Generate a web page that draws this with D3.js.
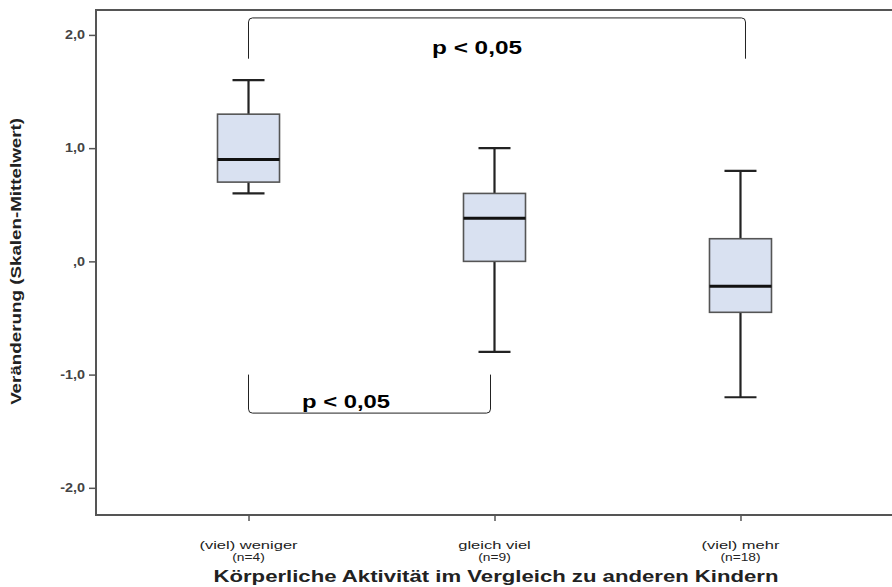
<!DOCTYPE html>
<html>
<head>
<meta charset="utf-8">
<script src="https://cdn.jsdelivr.net/npm/d3@7"></script>
<style>
  body { margin: 0; background: #fff; }
  svg { display: block; font-family: "Liberation Sans", Arial, sans-serif; }
</style>
</head>
<body>
<svg class="chart"></svg>
<script>
// groups on the x axis
var categories = ["(viel) weniger", "gleich viel", "(viel) mehr"];
var counts = ["(n=4)", "(n=9)", "(n=18)"];
// box statistics
var whiskerLow = [0.6, -0.8, -1.2];
var q1 = [0.7, 0.0, -0.45];
var median = [0.9, 0.38, -0.22];
var q3 = [1.3, 0.6, 0.2];
var whiskerHigh = [1.6, 1.0, 0.8];
var yTicks = [2, 1, 0, -1, -2];
var yTickLabels = ["2,0", "1,0", ",0", "-1,0", "-2,0"];
var pLabel = "p < 0,05";

var width = 892,
    height = 587;
var mLeft = 96, mRight = 893, mTop = 10, mBottom = 515;
var stretch = 1.3; // text in the picture is drawn wide

var data = categories.map(function(c, i) {
  return {cat: c, n: counts[i], lo: whiskerLow[i], q1: q1[i], med: median[i], q3: q3[i], hi: whiskerHigh[i]};
});

var x = d3.scalePoint()
    .domain(categories)
    .range([mLeft, mRight])
    .padding(0.62);

var y = d3.scaleLinear()
    .domain([-2.24, 2.22])
    .range([mBottom, mTop]);

var chart = d3.select(".chart")
    .attr("width", width)
    .attr("height", height);

function widen(sel, k) {
  sel.each(function() {
    var w = this.getComputedTextLength();
    d3.select(this).attr("textLength", w * (k || stretch)).attr("lengthAdjust", "spacingAndGlyphs");
  });
}

// frame (right edge falls outside the picture)
chart.append("path")
    .attr("d", "M" + (width + 5) + "," + mTop + "H" + mLeft + "V" + mBottom + "H" + (width + 5))
    .attr("fill", "none")
    .attr("stroke", "#555")
    .attr("stroke-width", 2);

// y axis
var yAxis = chart.append("g")
    .attr("transform", "translate(" + mLeft + ",0)")
    .call(d3.axisLeft(y)
      .tickValues(yTicks)
      .tickSize(7)
      .tickFormat(function(d, i) { return yTickLabels[i]; }));
yAxis.select(".domain").remove();
yAxis.selectAll("line").attr("stroke", "#555").attr("stroke-width", 1.5);
yAxis.selectAll("text")
    .attr("fill", "#444")
    .attr("font-weight", "bold")
    .attr("font-size", 12)
    .attr("font-family", "Liberation Sans, Arial, sans-serif")
    .attr("x", -11)
    .call(widen, 1.2);

// x axis
var xAxis = chart.append("g")
    .attr("transform", "translate(0," + mBottom + ")")
    .call(d3.axisBottom(x).tickSize(6).tickFormat(""));
xAxis.select(".domain").remove();
xAxis.selectAll("line").attr("stroke", "#555").attr("stroke-width", 1.5);

chart.selectAll(".catlabel")
    .data(data)
    .enter()
    .append("text")
      .attr("class", "catlabel")
      .attr("text-anchor", "middle")
      .attr("font-size", 11)
      .attr("fill", "#222")
      .attr("x", function(d) { return x(d.cat); })
      .attr("y", 549)
      .text(function(d) { return d.cat; })
      .call(widen, 1.5);

chart.selectAll(".ncount")
    .data(data)
    .enter()
    .append("text")
      .attr("class", "ncount")
      .attr("text-anchor", "middle")
      .attr("font-size", 11)
      .attr("fill", "#222")
      .attr("x", function(d) { return x(d.cat); })
      .attr("y", 561)
      .text(function(d) { return d.n; })
      .call(widen, 1.25);

// boxes
var boxW = 62, capW = 32;
var g = chart.selectAll(".box")
    .data(data)
    .enter()
    .append("g")
      .attr("class", "box");

g.append("line")
    .attr("x1", function(d) { return x(d.cat); })
    .attr("x2", function(d) { return x(d.cat); })
    .attr("y1", function(d) { return y(d.hi); })
    .attr("y2", function(d) { return y(d.lo); })
    .attr("stroke", "#222")
    .attr("stroke-width", 2.2);

g.selectAll(".cap")
    .data(function(d) { return [{c: d.cat, v: d.hi}, {c: d.cat, v: d.lo}]; })
    .enter()
    .append("line")
      .attr("x1", function(d) { return x(d.c) - capW / 2; })
      .attr("x2", function(d) { return x(d.c) + capW / 2; })
      .attr("y1", function(d) { return y(d.v); })
      .attr("y2", function(d) { return y(d.v); })
      .attr("stroke", "#222")
      .attr("stroke-width", 2.2);

g.append("rect")
    .attr("x", function(d) { return x(d.cat) - boxW / 2; })
    .attr("width", boxW)
    .attr("y", function(d) { return y(d.q3); })
    .attr("height", function(d) { return y(d.q1) - y(d.q3); })
    .attr("fill", "#d9e1f1")
    .attr("stroke", "#555")
    .attr("stroke-width", 1.6);

g.append("line")
    .attr("x1", function(d) { return x(d.cat) - boxW / 2; })
    .attr("x2", function(d) { return x(d.cat) + boxW / 2; })
    .attr("y1", function(d) { return y(d.med); })
    .attr("y2", function(d) { return y(d.med); })
    .attr("stroke", "#111")
    .attr("stroke-width", 3);

// significance brackets
function bracket(x1, x2, yEnd, yBar) {
  var r = 4, s = yBar < yEnd ? -1 : 1;
  return "M" + x1 + "," + yEnd +
         "V" + (yBar - s * r) +
         "Q" + x1 + "," + yBar + " " + (x1 + r) + "," + yBar +
         "H" + (x2 - r) +
         "Q" + x2 + "," + yBar + " " + x2 + "," + (yBar - s * r) +
         "V" + yEnd;
}

chart.append("path")
    .attr("d", bracket(x(categories[0]), x(categories[2]) + 5, y(1.79), y(2.15)))
    .attr("fill", "none")
    .attr("stroke", "#222")
    .attr("stroke-width", 1);
chart.append("text")
    .attr("x", 477)
    .attr("y", 54)
    .attr("text-anchor", "middle")
    .attr("font-weight", "bold")
    .attr("font-size", 19)
    .attr("textLength", 90)
    .attr("lengthAdjust", "spacingAndGlyphs")
    .text(pLabel);

chart.append("path")
    .attr("d", bracket(x(categories[0]), x(categories[1]) - 4, y(-1.0), y(-1.34)))
    .attr("fill", "none")
    .attr("stroke", "#222")
    .attr("stroke-width", 1);
chart.append("text")
    .attr("x", 346)
    .attr("y", 408)
    .attr("text-anchor", "middle")
    .attr("font-weight", "bold")
    .attr("font-size", 19)
    .attr("textLength", 88)
    .attr("lengthAdjust", "spacingAndGlyphs")
    .text(pLabel);

// axis titles
chart.append("text")
    .attr("transform", "translate(21," + y(0) + ") rotate(-90)")
    .attr("text-anchor", "middle")
    .attr("font-weight", "bold")
    .attr("font-size", 15)
    .attr("fill", "#222")
    .attr("textLength", 287)
    .attr("lengthAdjust", "spacingAndGlyphs")
    .text("Veränderung (Skalen-Mittelwert)");

chart.append("text")
    .attr("x", 496)
    .attr("y", 582)
    .attr("text-anchor", "middle")
    .attr("font-weight", "bold")
    .attr("font-size", 17)
    .attr("fill", "#222")
    .attr("textLength", 565)
    .attr("lengthAdjust", "spacingAndGlyphs")
    .text("Körperliche Aktivität im Vergleich zu anderen Kindern");
</script>
</body>
</html>
